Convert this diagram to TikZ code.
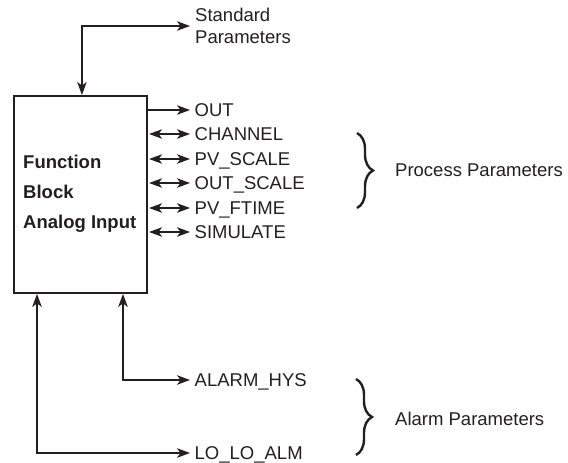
\documentclass[tikz,border=0pt]{standalone}
\usepackage{fontspec}
\setmainfont{Liberation Sans}
\usetikzlibrary{arrows.meta,decorations.pathreplacing,calc}
\definecolor{ink}{HTML}{231F20}
\begin{document}
\begin{tikzpicture}[x=1pt,y=-1pt,
  every node/.style={text=ink},
  lbl/.style={font=\fontsize{18.5}{22}\selectfont, inner xsep=4.5pt, inner ysep=0pt, text height=13.3pt, text depth=0pt, anchor=west},
  grp/.style={font=\fontsize{18.5}{22}\selectfont, inner sep=0pt, text height=13.3pt, text depth=0pt, anchor=west},
  boldlbl/.style={font=\fontsize{18.5}{22}\selectfont\bfseries, inner sep=0pt, anchor=base west},
  blockbox/.style={draw=ink, line width=1.9pt, minimum width=133pt, minimum height=197pt, anchor=north west, inner sep=0pt},
  conn/.style={draw=ink, line width=1.3pt},
  arr/.style={conn, -{Stealth[length=13pt,width=9.5pt,inset=3.5pt]}},
  dbl/.style={conn, {Stealth[length=13pt,width=9.5pt,inset=3.5pt]}-{Stealth[length=13pt,width=9.5pt,inset=3.5pt]}},
  bracestyle/.style={draw=ink, line width=2.4pt, decorate, decoration={brace, amplitude=16pt}}
]
\useasboundingbox (0,0) rectangle (568,463);

% block
\node[blockbox] (fb) at (13,95) {};
\node[boldlbl] (fb1) at (23,168) {Function};
\node[boldlbl] (fb2) at (23,198) {Block};
\node[boldlbl] (fb3) at (23,228) {Analog Input};

% standard parameters
\node[font=\fontsize{18.5}{22}\selectfont, align=left, inner xsep=5pt, inner ysep=0pt, anchor=west] (std) at (190,26) {Standard\\Parameters};
\draw[dbl] (std.west) -| ([xshift=1.5pt]fb.north);

% process parameters
\node[lbl] (out) at (190,110) {OUT};
\node[lbl] (ch) at (190,134) {CHANNEL};
\node[lbl] (pvs) at (190,159) {PV\_SCALE};
\node[lbl] (outs) at (190,183) {OUT\_SCALE};
\node[lbl] (pvf) at (190,208) {PV\_FTIME};
\node[lbl] (sim) at (190,232) {SIMULATE};

\draw[arr] (out.west -| fb.east) -- (out.west);
\foreach \n in {ch,pvs,outs,pvf,sim}{
  \draw[dbl] ([xshift=1.2pt]\n.west -| fb.east) -- (\n.west);
}

% alarm parameters
\node[lbl] (ah) at (190,380) {ALARM\_HYS};
\node[lbl] (lla) at (190,453) {LO\_LO\_ALM};
\draw[dbl] ([xshift=110pt]fb.south west) |- (ah.west);
\draw[dbl] ([xshift=24pt]fb.south west) |- (lla.west);

% braces
\draw[bracestyle] (357,133) -- (357,208);
\node[grp] (pp) at (395,170) {Process Parameters};
\draw[bracestyle] (356,379) -- (356,455);
\node[grp] (ap) at (395,419) {Alarm Parameters};
\end{tikzpicture}
\end{document}
